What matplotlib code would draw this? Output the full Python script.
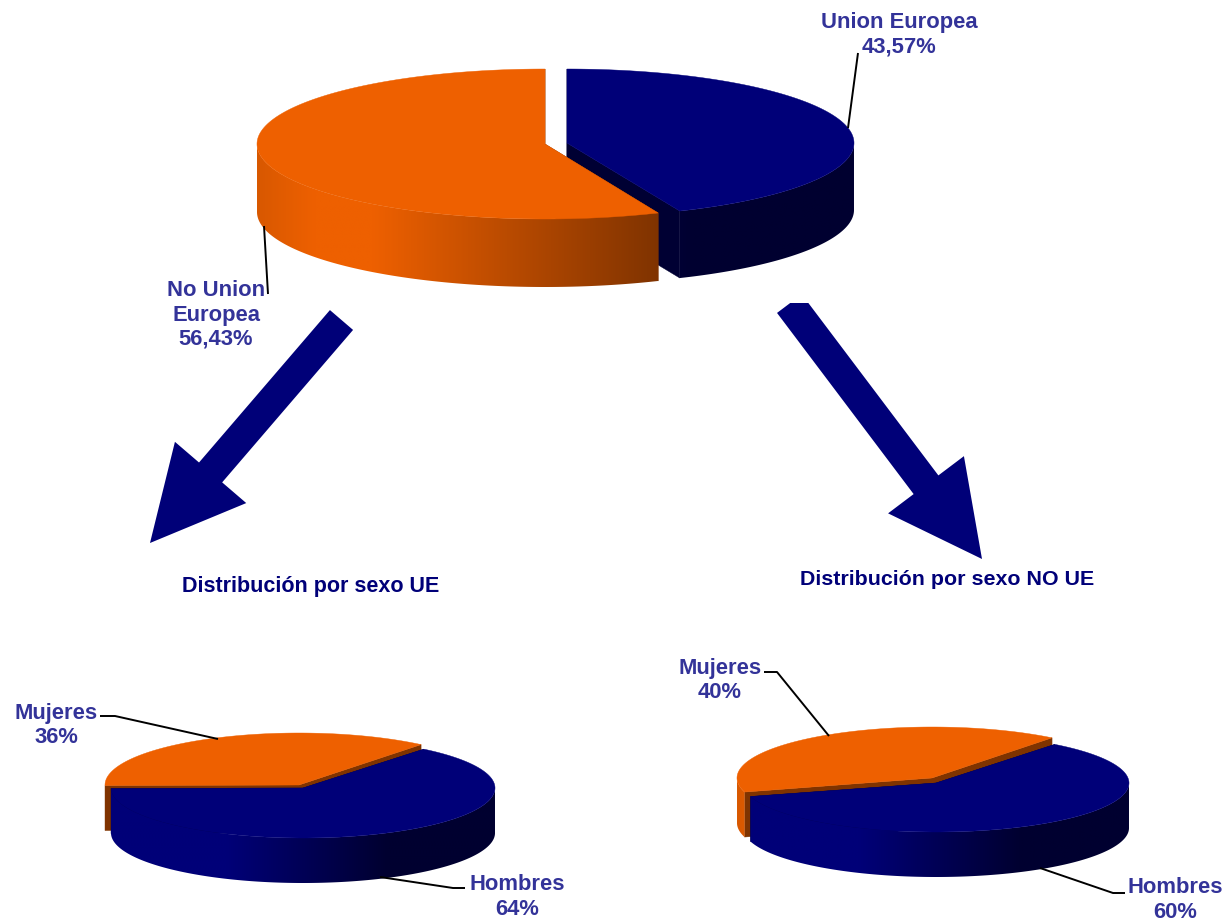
import numpy as np
import matplotlib
matplotlib.use("Agg")
import matplotlib.pyplot as plt
from matplotlib.patches import Polygon, FancyArrow, Rectangle
from matplotlib.colors import to_rgb

# ---- data ----
region_labels = ["Union Europea", "No Union\nEuropea"]
region_values = [43.57, 56.43]
sex_labels = ["Hombres", "Mujeres"]
ue_values = [64, 36]
noue_values = [60, 40]
title_ue = "Distribución por sexo UE"
title_noue = "Distribución por sexo NO UE"

# ---- style ----
BLUE = "#000078"
ORANGE = "#EE6000"
TEXT = "#333399"
TITLE = "#000078"
FS = 15.8
FONT = "Liberation Sans"
BLUE_STOPS = [(0, "#000078"), (.30, "#000078"), (.72, "#000030"), (1, "#000030")]
ORANGE_STOPS = [(0, "#D85800"), (.10, "#EE6000"), (.20, "#EE6000"), (.70, "#7F3300"), (1, "#7F3300")]

fig = plt.figure(figsize=(12.29, 9.22), dpi=100, facecolor="white")
ax = fig.add_axes([0, 0, 1, 1])


def ell(g, t):
    t = np.radians(t)
    return g[0] + g[2] * np.sin(t), g[1] - g[3] * np.cos(t)


def grad_array(stops):
    f = np.linspace(0, 1, 512)
    fs = [s[0] for s in stops]
    cs = np.array([to_rgb(s[1]) for s in stops])
    return np.stack([np.interp(f, fs, cs[:, i]) for i in range(3)], axis=-1)[None, :, :]


def wedge(g, depth, t0, t1, top, stops, cut, z):
    """g = (cx, cy, rx, ry); angles clockwise from 12 o'clock."""
    cx, cy, rx, ry = g
    # cut faces
    for t in (t0, t1):
        x, y = ell(g, t)
        ax.add_patch(Polygon([(cx, cy), (x, y), (x, y + depth), (cx, cy + depth)],
                             closed=True, fc=cut, ec=cut, lw=.3, zorder=z))
    ts = np.append(np.arange(t0, t1, .5), t1)
    # outer side, only the part facing the viewer, shaded left to right
    vis = ts[(ts % 360 > 90) & (ts % 360 < 270)]
    if len(vis) > 1:
        xs, ys = ell(g, vis)
        pts = list(zip(xs, ys)) + list(zip(xs[::-1], ys[::-1] + depth))
        clip = Polygon(pts, closed=True, transform=ax.transData)
        im = ax.imshow(grad_array(stops), extent=(cx - rx, cx + rx, cy + ry + depth + 2, cy - ry - 2),
                       aspect="auto", zorder=z + .1, interpolation="bilinear")
        im.set_clip_path(clip)
    # top surface
    xs, ys = ell(g, ts)
    pts = [(cx, cy)] + list(zip(xs, ys))
    ax.add_patch(Polygon(pts, closed=True, fc=top, ec=top, lw=.3, zorder=z + .2))


# ---- top pie: values drive the cut angles ----
blue_sweep = region_values[0] / sum(region_values) * 360
wedge((567, 143, 287, 74), 67, 0, blue_sweep, BLUE, BLUE_STOPS, "#000033", 2)
wedge((545, 144, 288, 75), 68, blue_sweep, 360, ORANGE, ORANGE_STOPS, "#7F3300", 3)


# ---- lower pies ----
def lower_pie(values, start, gb, go, depth):
    sweep = values[0] / sum(values) * 360
    end = start + sweep
    wedge(go, depth, end - 360, start, ORANGE, ORANGE_STOPS, "#7F3300", 2)
    wedge(gb, depth, start, end, BLUE, BLUE_STOPS, "#000033", 3)


lower_pie(ue_values, 39, (303, 788, 192, 50), (299, 785, 194, 52), 45)
lower_pie(noue_values, 38, (936, 783, 193, 49), (932, 778, 195, 51), 45)

# ---- arrows ----
ax.add_patch(FancyArrow(341.5, 320, 150 - 341.5, 543 - 320, width=30.5, head_width=94,
                        head_length=93, length_includes_head=True, fc=BLUE, ec=BLUE, lw=0, zorder=5))
right = FancyArrow(789.4, 303.6, 982 - 789.4, 559 - 303.6, width=31, head_width=95,
                   head_length=93, length_includes_head=True, fc=BLUE, ec=BLUE, lw=0, zorder=5)
ax.add_patch(right)
right.set_clip_path(Rectangle((700, 303), 400, 300, transform=ax.transData))

# ---- leader lines ----
leaders = [
    ([848, 858], [128, 53]),
    ([264, 268], [226, 294]),
    ([100, 115, 218], [716, 716, 739]),
    ([380, 453, 465], [877, 888, 888]),
    ([764, 777, 829], [672, 672, 736]),
    ([1040, 1113, 1125], [868, 893, 893]),
]
for xs, ys in leaders:
    ax.plot(xs, ys, color="black", lw=1.4, zorder=6, solid_capstyle="butt")


# ---- labels ----
def fmt(v):
    return f"{v:.2f}".replace(".", ",") + "%"


def label(x, y, s):
    ax.text(x, y, s, ha="center", va="center", color=TEXT, fontsize=FS, fontweight="bold",
            family=FONT, linespacing=1.2, zorder=7)


label(899, 34.5, f"{region_labels[0]}\n{fmt(region_values[0])}")
label(216, 315, f"{region_labels[1]}\n{fmt(region_values[1])}")
label(56, 725.5, f"{sex_labels[1]}\n{ue_values[1]}%")
label(720, 680.5, f"{sex_labels[1]}\n{noue_values[1]}%")
label(517, 897, f"{sex_labels[0]}\n{ue_values[0]}%")
label(1175, 900, f"{sex_labels[0]}\n{noue_values[0]}%")

ax.text(311, 586, title_ue, ha="center", va="center", color=TITLE, fontsize=15.5,
        fontweight="bold", family=FONT, zorder=7)
ax.text(947, 579, title_noue, ha="center", va="center", color=TITLE, fontsize=15.4,
        fontweight="bold", family=FONT, zorder=7)

ax.set_xlim(0, 1229)
ax.set_ylim(922, 0)
ax.axis("off")

fig.savefig("out.png", dpi=100, facecolor="white")
